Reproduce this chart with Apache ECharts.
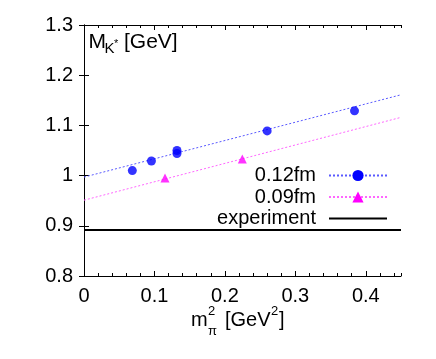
<!DOCTYPE html>
<html><head><meta charset="utf-8">
<script src="https://cdn.jsdelivr.net/npm/echarts@6/dist/echarts.min.js"></script>
<style>html,body{margin:0;padding:0;background:#fff}#c{width:436px;height:359px}</style>
</head><body><div id="c"></div>
<script>
// ---- data ----
const mpi2_012 = [0.0686, 0.0957, 0.132, 0.132, 0.260, 0.384];
const mK_012   = [1.010, 1.029, 1.050, 1.044, 1.089, 1.129];
const mpi2_009 = [0.115, 0.2247];
const mK_009   = [0.995, 1.033];
const fitX     = [0, 0.45];
const fit_012  = [0.997, 1.161];
const fit_009  = [0.951, 1.116];
const expX     = [0, 0.45];
const expMK    = [0.8917, 0.8917];
const seriesNames = ['0.12fm', '0.09fm', 'experiment'];
const xTicks = [0, 0.1, 0.2, 0.3, 0.4];
const yTicks = [0.8, 0.9, 1.0, 1.1, 1.2, 1.3];

const FF = '"Liberation Sans", Arial, sans-serif';
const zip = (a, b) => a.map((v, i) => [v, b[i]]);
const fmt = v => String(Math.round(v * 100) / 100);

const chart = echarts.init(document.getElementById('c'), null, {renderer: 'canvas'});

const axLine = {show: true, lineStyle: {color: '#000', width: 1}};
function xAx(pos, major) {
  return {
    type: 'value', min: 0, max: 0.45, position: pos,
    interval: major ? 0.1 : 0.02,
    axisLine: major ? axLine : {show: false},
    axisTick: major ? {show: true, inside: true, length: 5, customValues: xTicks, lineStyle: {color: '#000'}}
                    : {show: true, inside: true, length: 3, lineStyle: {color: '#000'}},
    axisLabel: (major && pos === 'bottom') ? {show: true, customValues: xTicks, formatter: fmt, margin: 10,
                 fontSize: 20, fontFamily: FF, color: '#000'} : {show: false},
    splitLine: {show: false}
  };
}
function yAx(pos) {
  return {
    type: 'value', min: 0.8, max: 1.3, interval: 0.1, position: pos,
    axisLine: axLine,
    axisTick: {show: true, inside: true, length: 5, customValues: yTicks, lineStyle: {color: '#000'}},
    axisLabel: pos === 'left' ? {show: true, customValues: yTicks, formatter: fmt, margin: 11,
                 fontSize: 20, fontFamily: FF, color: '#000'} : {show: false},
    splitLine: {show: false}
  };
}

const option = {
  animation: false,
  backgroundColor: '#fff',
  grid: {left: 84, right: 35, top: 25, bottom: 83, containLabel: false},
  xAxis: [xAx('bottom', true), xAx('bottom', false), xAx('top', true), xAx('top', false)],
  yAxis: [yAx('left'), yAx('right')],
  legend: {
    orient: 'vertical', right: 48, top: 165.5, padding: 0, align: 'right',
    itemWidth: 58, itemHeight: 14, itemGap: 1.5, selectedMode: false,
    data: [
      {name: seriesNames[0]},
      {name: seriesNames[1]},
      {name: seriesNames[2], icon: 'path://M0 0H58V2H0Z'}
    ],
    textStyle: {fontFamily: FF, fontSize: 20, color: '#000', padding: [0, 8, 0, 0], lineHeight: 14}
  },
  graphic: [
    {type: 'text', x: 88.5, y: 42.5, style: {text: 'M', font: '21px ' + FF, fill: '#000', verticalAlign: 'middle'}},
    {type: 'text', x: 104.5, y: 49, style: {text: 'K', font: '15px ' + FF, fill: '#000', verticalAlign: 'middle'}},
    {type: 'text', x: 114, y: 44, style: {text: '*', font: '11px ' + FF, fill: '#000', verticalAlign: 'middle'}},
    {type: 'text', x: 124, y: 42.5, style: {text: '[GeV]', font: '21px ' + FF, fill: '#000', verticalAlign: 'middle'}},

    {type: 'text', x: 191, y: 320, style: {text: 'm', font: '20px ' + FF, fill: '#000', verticalAlign: 'middle'}},
    {type: 'text', x: 208, y: 331, style: {text: 'π', font: '13px ' + FF, fill: '#000', verticalAlign: 'middle'}},
    {type: 'text', x: 208, y: 311, style: {text: '2', font: '13px ' + FF, fill: '#000', verticalAlign: 'middle'}},
    {type: 'text', x: 225, y: 320, style: {text: '[GeV', font: '20px ' + FF, fill: '#000', verticalAlign: 'middle'}},
    {type: 'text', x: 271, y: 311, style: {text: '2', font: '13px ' + FF, fill: '#000', verticalAlign: 'middle'}},
    {type: 'text', x: 279, y: 320, style: {text: ']', font: '20px ' + FF, fill: '#000', verticalAlign: 'middle'}}
  ],
  series: [
    {name: seriesNames[0], type: 'line', data: zip(fitX, fit_012), showSymbol: false, symbol: 'circle',
     itemStyle: {color: '#0000ff'}, lineStyle: {color: '#5a5aff', width: 1, type: [2, 2]}, z: 2, silent: true},
    {name: seriesNames[1], type: 'line', data: zip(fitX, fit_009), showSymbol: false, symbol: 'triangle',
     itemStyle: {color: '#ff00ff'}, lineStyle: {color: '#ff66ff', width: 1, type: [2, 2]}, z: 2, silent: true},
    {name: seriesNames[2], type: 'line', data: zip(expX, expMK), showSymbol: false, symbol: 'none',
     itemStyle: {color: '#000'}, lineStyle: {color: '#000', width: 2}, z: 3, silent: true},
    {name: seriesNames[0], type: 'scatter', data: zip(mpi2_012, mK_012), symbol: 'circle', symbolSize: 9,
     itemStyle: {color: '#0000ff'}, z: 4},
    {name: seriesNames[1], type: 'scatter', data: zip(mpi2_009, mK_009), symbol: 'triangle', symbolSize: 9,
     itemStyle: {color: '#ff00ff'}, z: 4}
  ]
};
chart.setOption(option);
</script>
</body></html>
